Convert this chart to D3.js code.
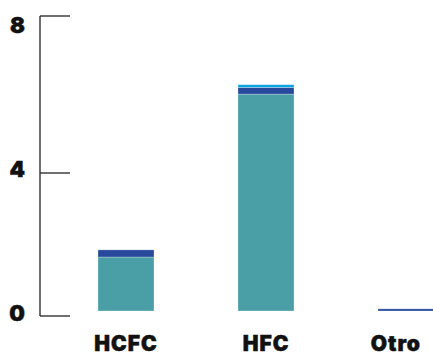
<!DOCTYPE html>
<html>
<head>
<meta charset="utf-8">
<script src="https://cdn.jsdelivr.net/npm/d3@7/dist/d3.min.js"></script>
<style>
  html, body { margin: 0; padding: 0; background: #fff; }
  svg { display: block; }
  text { font-family: Inter, "Noto Sans", sans-serif; font-weight: 900; fill: #111;
         stroke: #111; stroke-width: 0.5; }
</style>
</head>
<body>
<svg id="chart" width="433" height="359"></svg>
<script>
// Categories and stacked series values (Mt CO2-eq)
const categories = ["HCFC", "HFC", "Otro"];
const seriesKeys = ["base", "medio", "alto"];
const baseValues  = [1.65, 6.01, 0.00];
const medioValues = [0.20, 0.17, 0.20];
const altoValues  = [0.00, 0.07, 0.00];
const tickValues = [0, 4, 8];
const tickLabels = ["0", "4", "8"];

const colors = { base: "#4a9fa7", medio: "#28489b", alto: "#0ba2e2" };

const W = 433, H = 359;
const svg = d3.select("#chart");

const rows = categories.map((c, i) => ({
  cat: c, base: baseValues[i], medio: medioValues[i], alto: altoValues[i]
}));
const stacked = d3.stack().keys(seriesKeys)(rows);

const x = d3.scaleBand().domain(categories).range([14, 518]).padding(0.6);
const y = d3.scaleLinear().domain([0, 4, 8]).range([316, 173, 16]);
const yLabel = d3.scaleLinear().domain([0, 8]).range([313, 25]);
const baseGap = 5; // bars sit slightly above the axis floor
const floorY = y(0) - baseGap;

// y axis: vertical rule plus ticks
const axisX = 40, tickLen = 30;
const ax = svg.append("g").attr("stroke", "#222").attr("stroke-width", 1.3);
ax.append("line").attr("x1", axisX).attr("x2", axisX)
  .attr("y1", y(8)).attr("y2", y(0));
ax.selectAll("line.tick").data(tickValues).join("line").attr("class", "tick")
  .attr("x1", axisX).attr("x2", axisX + tickLen)
  .attr("y1", d => y(d)).attr("y2", d => y(d));

svg.append("g").selectAll("text").data(tickValues).join("text")
  .attr("x", 26).attr("y", d => yLabel(d))
  .attr("text-anchor", "end").attr("dominant-baseline", "central")
  .attr("font-size", 22)
  .attr("letter-spacing", 1)
  .text((d, i) => tickLabels[i]);

// stacked bars
svg.append("g").selectAll("g").data(stacked).join("g")
  .attr("fill", d => colors[d.key])
  .selectAll("rect").data(d => d.filter(s => s[1] - s[0] > 0)).join("rect")
  .attr("x", d => x(d.data.cat))
  .attr("width", x.bandwidth())
  .attr("y", d => Math.min(y(d[1]), floorY))
  .attr("height", d => Math.max(0, Math.min(y(d[0]), floorY) - Math.min(y(d[1]), floorY)))
  .attr("stroke", "rgba(255,255,255,0.35)")
  .attr("stroke-width", 0.8);

// category labels, kept inside the frame
svg.append("g").selectAll("text").data(categories).join("text")
  .attr("y", 351)
  .attr("text-anchor", "middle")
  .attr("font-size", 21)
  .attr("letter-spacing", 1)
  .text(d => d)
  .attr("x", function(d) {
    const c = x(d) + x.bandwidth() / 2;
    const half = this.getComputedTextLength() / 2;
    return Math.min(c, W - 12 - half);
  });
</script>
</body>
</html>
